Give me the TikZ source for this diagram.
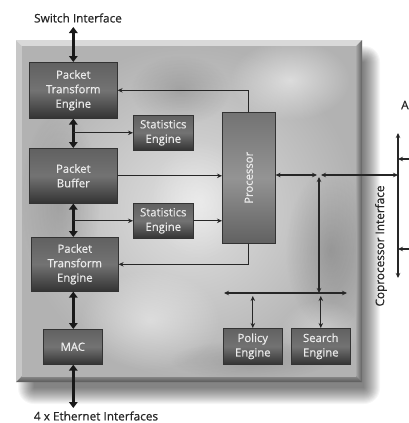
\documentclass[tikz,border=0pt]{standalone}
\usepackage{fontspec}
\setmainfont{Open Sans}
\newfontfamily\heavysans[FakeBold=0.6]{Open Sans}
\usetikzlibrary{arrows.meta,fadings,calc}

\definecolor{inkgray}{HTML}{262626}

\tikzfading[name=softblob, inner color=transparent!0, outer color=transparent!100]

\tikzset{
  chip/.style={draw=black!80, line width=0.6pt, rectangle, inner sep=0pt,
    top color=black!62, bottom color=black!80, middle color=black!55,
    text=white!92!black, align=center,
    font=\heavysans\fontsize{11.3}{14.5}\selectfont},
  lightchip/.style={chip, top color=black!55, bottom color=black!62, middle color=black!42},
  label/.style={text=inkgray, font=\heavysans\fontsize{11.8}{13}\selectfont, inner sep=0pt},
  fatlink/.style={line width=2.6pt, black!90,
    {Triangle[length=6pt,width=8.5pt]}-{Triangle[length=6pt,width=8.5pt]}},
  thinlink/.style={line width=1.2pt, black!85, -{Stealth[length=5pt,width=4.5pt]}},
  thinboth/.style={line width=1.2pt, black!85,
    {Stealth[length=5pt,width=4.5pt]}-{Stealth[length=5pt,width=4.5pt]}},
  blob/.style={path fading=softblob, opacity=#1},
}

\begin{document}
\begin{tikzpicture}[x=1pt,y=-1pt]
\useasboundingbox (0,0) rectangle (409,423);
\fill[white] (0,0) rectangle (409,423);

% soft drop shadow, built from stacked translucent rectangles
\foreach \i in {0,...,16}
  \fill[black, opacity=0.035, rounded corners=\i pt]
    (34-\i,62-\i) rectangle (364+\i,388+\i);

% board with bevelled rim
\fill[black!15] (16,40) -- (362,40) -- (356,46) -- (22,46) -- cycle;
\fill[black!22] (16,40) -- (22,46) -- (22,376) -- (16,382) -- cycle;
\shade[left color=black!35, right color=black!62]
  (356,46) -- (362,40) -- (362,382) -- (356,376) -- cycle;
\shade[top color=black!45, bottom color=black!65]
  (22,376) -- (356,376) -- (362,382) -- (16,382) -- cycle;
\shade[inner color=black!12, outer color=black!30] (22,46) rectangle (356,376);

% cloudy texture of the board
\begin{scope}
\clip (22,46) rectangle (356,376);
\fill[white, blob=0.55] (290,80) ellipse (60 and 40);
\fill[white, blob=0.45] (150,320) ellipse (70 and 50);
\fill[white, blob=0.4] (200,200) ellipse (50 and 60);
\fill[black, blob=0.18] (330,250) ellipse (45 and 80);
\fill[black, blob=0.15] (60,200) ellipse (40 and 90);
\fill[black, blob=0.15] (180,90) ellipse (50 and 35);
\fill[white, blob=0.35] (320,330) ellipse (40 and 30);
\fill[black, blob=0.12] (250,360) ellipse (80 and 20);
\end{scope}

% functional blocks
\node[chip, anchor=north west, minimum width=88pt, minimum height=56pt]
  (pte1) at (29,62) {Packet\\Transform\\Engine};
\node[chip, anchor=north west, minimum width=60pt, minimum height=35pt]
  (stats1) at (133,115) {Statistics\\Engine};
\node[chip, anchor=north west, minimum width=88pt, minimum height=55pt]
  (pb) at (29,148) {Packet\\Buffer};
\node[chip, anchor=north west, minimum width=60pt, minimum height=35pt]
  (stats2) at (133,203) {Statistics\\Engine};
\node[chip, anchor=north west, minimum width=87pt, minimum height=54pt]
  (pte2) at (31,237) {Packet\\Transform\\Engine};
\node[chip, anchor=north west, minimum width=59pt, minimum height=35pt]
  (mac) at (43,329) {MAC};
\node[lightchip, anchor=north west, minimum width=53pt, minimum height=131pt]
  (proc) at (222,112) {};
\node[text=white!92!black, rotate=90, font=\heavysans\fontsize{11.3}{13}\selectfont]
  (proclbl) at (proc.center) {Processor};
\node[chip, anchor=north west, minimum width=59pt, minimum height=36pt]
  (policy) at (223,328) {Policy\\Engine};
\node[chip, anchor=north west, minimum width=59pt, minimum height=36pt]
  (search) at (291,328) {Search\\Engine};

% outside labels
\node[label] (swlbl) at (78,18) {Switch Interface};
\node[label] (ethlbl) at (96,416) {4 x Ethernet Interfaces};
\node[label, rotate=90] (coplbl) at (381,246) {Coprocessor Interface};
\node[label, anchor=west] (alabel) at (401,105) {A};

% free ends
\coordinate (swend) at (pte1.north |- 0,27);
\coordinate (ethend) at (mac.south |- 0,408);
\coordinate (jn) at (319,175);
\coordinate (cpt) at (398,133);
\coordinate (cpb) at (398,278);
\coordinate (bl) at (224,293);
\coordinate (br) at (347,293);
\coordinate (in1) at (409,159);
\coordinate (in2) at (409,249);

% main data path
\draw[fatlink] (swend) -- (pte1.north);
\draw[fatlink] (pte1.south) -- (pte1.south |- pb.north);
\draw[fatlink] (pb.south) -- (pb.south |- pte2.north);
\draw[fatlink] (pte2.south -| pb.south) -- (pb.south |- mac.north);
\draw[fatlink] (mac.south -| pb.south) -- (pb.south |- ethend);

% statistics taps
\draw[thinlink] (pte1.south |- stats1.west) -- (stats1.west);
\draw[thinlink] (pb.south |- stats2.west) -- (stats2.west);
\draw[thinlink] (stats2.east) -- (stats2.east -| proc.west);
\draw[thinlink] (pb.east) -- (pb.east -| proc.west);

% processor to transform engines
\draw[thinlink] (proc.north) |- (pte1.east);
\draw[thinlink] (proc.south) |- (pte2.east);

% processor to coprocessor side
\draw[thinboth, shorten >=2pt] (proc.east |- jn) -- (jn);
\draw[thinboth, shorten <=2pt] (jn) -- (jn -| cpt);
\draw[thinboth, shorten <=2pt] (jn) -- (jn |- bl);
\draw[thinboth] (bl) -- (br);
\draw[thinboth, shorten <=3pt] (policy.north |- bl) -- (policy.north);
\draw[thinboth, shorten <=3pt] (search.north |- bl) -- (search.north);

% coprocessor interface bus
\draw[thinboth] (cpt) -- (cpb);
\draw[thinlink] (in1) -- (in1 -| cpt);
\draw[thinlink] (in2) -- (in2 -| cpt);
\end{tikzpicture}
\end{document}
